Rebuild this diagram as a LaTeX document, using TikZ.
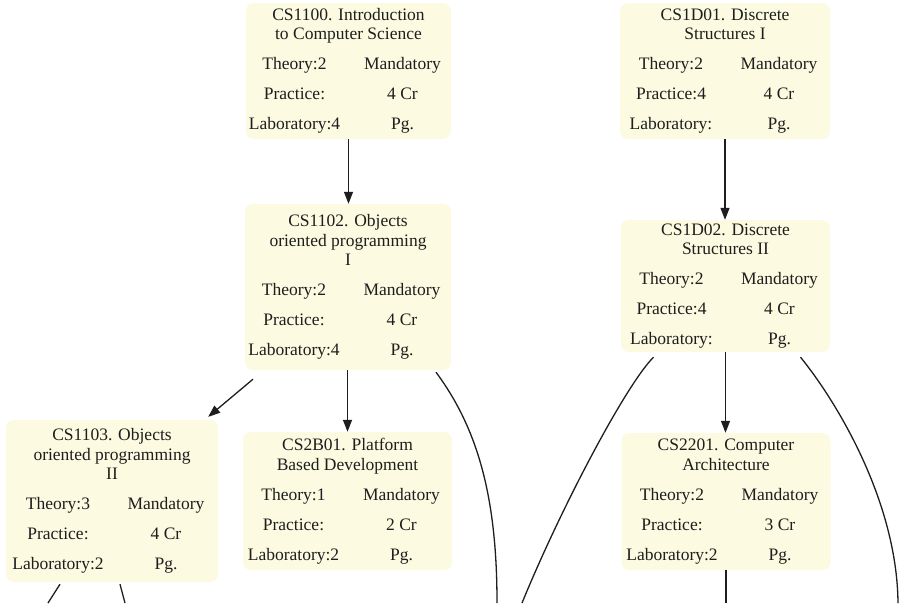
\documentclass[tikz,border=0pt]{standalone}
\usepackage{fontspec}
\setmainfont{Liberation Serif}
\usetikzlibrary{arrows.meta}
\definecolor{boxfill}{RGB}{252,250,224}
\definecolor{ink}{RGB}{30,30,30}
% one table row of a course card: two centred columns
\newcommand\crow[2]{\makebox[96pt]{#1}\hspace{12pt}\makebox[96pt]{#2}}
\newcommand\rowgap{\\[10.5pt]}

\begin{document}
\begin{tikzpicture}[x=1pt,y=-1pt,
  course/.style={fill=boxfill, rounded corners=8pt, inner sep=0pt, align=center,
    text=ink, font=\fontsize{17.5}{19.5}\selectfont},
  arr/.style={draw=ink, line width=1.3pt, -{Triangle[length=12pt,width=9pt]}},
  link/.style={draw=ink, line width=1.3pt}]
\useasboundingbox (0,0) rectangle (901,603);
\fill[white] (0,0) rectangle (901,603);

% course cards
\node[course, minimum width=205pt, minimum height=136pt] (c1100) at (348.5,71)
  {CS1100. Introduction\\to Computer Science\rowgap
   \crow{Theory:2}{Mandatory}\rowgap\crow{Practice:}{4 Cr}\rowgap\crow{Laboratory:4}{Pg.}};
\node[course, minimum width=206pt, minimum height=166pt] (c1102) at (348,287)
  {CS1102. Objects\\oriented programming\\I\rowgap
   \crow{Theory:2}{Mandatory}\rowgap\crow{Practice:}{4 Cr}\rowgap\crow{Laboratory:4}{Pg.}};
\node[course, minimum width=212pt, minimum height=162pt] (c1103) at (112,501)
  {CS1103. Objects\\oriented programming\\II\rowgap
   \crow{Theory:3}{Mandatory}\rowgap\crow{Practice:}{4 Cr}\rowgap\crow{Laboratory:2}{Pg.}};
\node[course, minimum width=209pt, minimum height=138pt] (c2b01) at (347.5,501)
  {CS2B01. Platform\\Based Development\rowgap
   \crow{Theory:1}{Mandatory}\rowgap\crow{Practice:}{2 Cr}\rowgap\crow{Laboratory:2}{Pg.}};
\node[course, minimum width=210pt, minimum height=136pt] (c1d01) at (725,71)
  {CS1D01. Discrete\\Structures I\rowgap
   \crow{Theory:2}{Mandatory}\rowgap\crow{Practice:4}{4 Cr}\rowgap\crow{Laboratory:}{Pg.}};
\node[course, minimum width=209pt, minimum height=132pt] (c1d02) at (725.5,286)
  {CS1D02. Discrete\\Structures II\rowgap
   \crow{Theory:2}{Mandatory}\rowgap\crow{Practice:4}{4 Cr}\rowgap\crow{Laboratory:}{Pg.}};
\node[course, minimum width=209pt, minimum height=137pt] (c2201) at (726,501.5)
  {CS2201. Computer\\Architecture\rowgap
   \crow{Theory:2}{Mandatory}\rowgap\crow{Practice:}{3 Cr}\rowgap\crow{Laboratory:2}{Pg.}};

% loose ends of edges leaving the page
\coordinate (o1) at (497,603);
\coordinate (o2) at (522,603);
\coordinate (o3) at (898,603);
\coordinate (o4) at (48,603);
\coordinate (o5) at (125,603);
\coordinate (o6) at (726,603);

% prerequisite edges
\draw[arr] (c1100.south) -- (c1100.south |- c1102.north);
\draw[arr] ([shift={(-95,9)}]c1102.south) -- ([shift={(-10,-3)}]c1103.north east);
\draw[arr] (c1102.south -| c2b01.north) -- (c2b01.north);
\draw[link] ([shift={(88,2)}]c1102.south) .. controls +(43,58) and +(0,-103) .. (o1);

\draw[arr] (c1d01.south) -- (c1d01.south |- c1d02.north);
\draw[arr] (c1d02.south) -- (c1d02.south |- c2201.north);
\draw[link] ([shift={(-72,5)}]c1d02.south) .. controls +(-28,28) and +(38,-93) .. (o2);
\draw[link] ([shift={(75,5)}]c1d02.south) .. controls +(35,43) and +(-1,-103) .. (o3);

\draw[link] ([shift={(-52,2)}]c1103.south) -- (o4);
\draw[link] ([shift={(8,2)}]c1103.south) -- (o5);
\draw[link] (c2201.south) -- (o6);
\end{tikzpicture}
\end{document}
